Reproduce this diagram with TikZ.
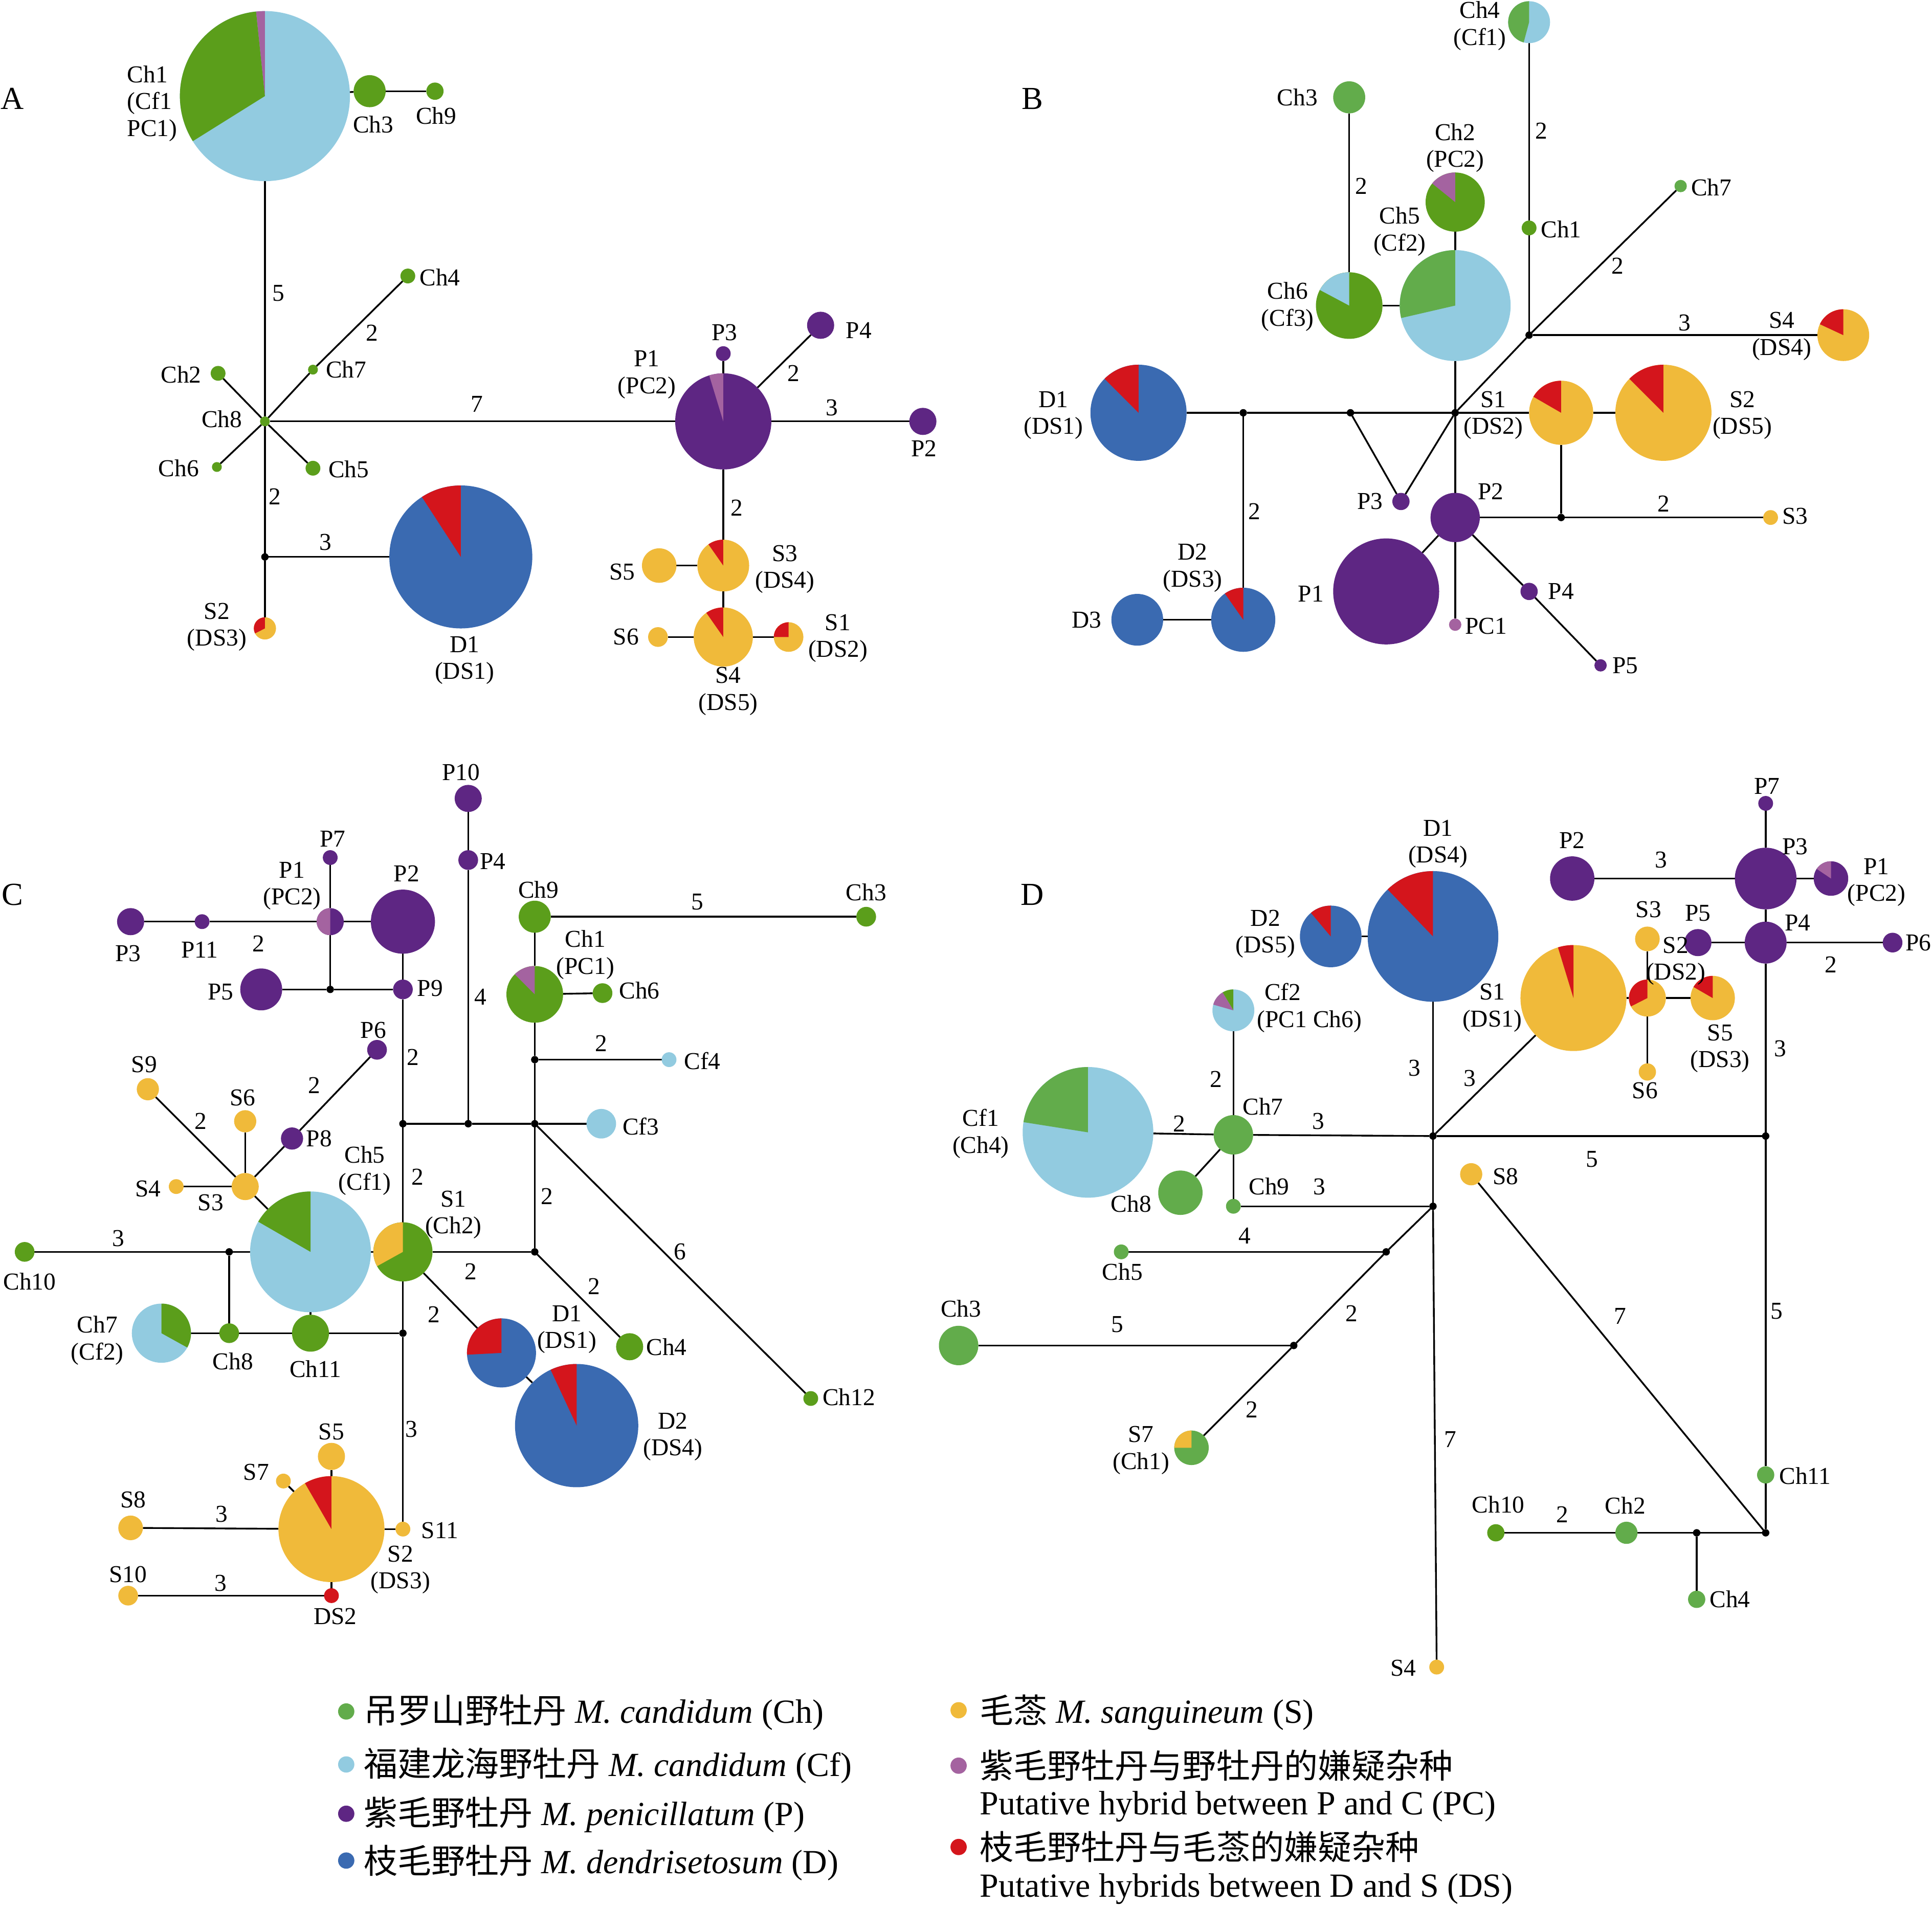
\documentclass[tikz,border=0pt]{standalone}
\usepackage{fontspec}
\setmainfont{Liberation Serif}
\newfontfamily\cjk{Noto Sans CJK SC}
\pgfdeclarelayer{bg}
\pgfsetlayers{bg,main}
\definecolor{cfb}{RGB}{146,203,224}
\definecolor{chd}{RGB}{91,158,27}
\definecolor{chl}{RGB}{98,172,75}
\definecolor{pp}{RGB}{94,38,131}
\definecolor{pc}{RGB}{164,99,160}
\definecolor{db}{RGB}{58,106,177}
\definecolor{rd}{RGB}{212,21,28}
\definecolor{yl}{RGB}{240,186,58}
\tikzset{
 hapn/.style={circle,inner sep=0pt,outer sep=0pt,draw=none},
 jnode/.style={circle,inner sep=0pt,outer sep=0pt,fill=black,minimum size=0.15cm},
 lab/.style={inner sep=0pt,align=center,font=\fontsize{14}{15.5}\selectfont},
 ttl/.style={inner sep=0pt,font=\fontsize{18.5}{20}\selectfont},
 lnk/.style={draw=black,line width=1pt},
 leg/.style={inner sep=0pt,anchor=west,align=left,font=\fontsize{19.5}{24}\selectfont},
 ldot/.style={circle,inner sep=0pt,minimum size=0.33cm},
}
\newcommand\hap[5]{\node[hapn,minimum size={#4*0.05cm},fill=#5] (#1) at (#2,#3) {};}
\newcommand\slc[5]{\pgfmathsetlengthmacro\rr{#2*0.025cm}\fill[#5] (#1.center) -- ++(#3:\rr) arc[start angle=#3,end angle=#4,radius=\rr] -- cycle;}
\newcommand\jn[3]{\node[jnode] (#1) at (#2,#3) {};}
\newcommand\lab[4]{\node[lab] (#1) at (#2,#3) {#4};}
\newcommand\ed[2]{\draw[lnk] (#1) -- (#2);}
\begin{document}
\begin{tikzpicture}[x=0.025cm,y=-0.025cm]
\useasboundingbox (0,0) rectangle (1568,1549);
% ================= Panel A =================
\node[ttl] (A-t) at (10,80) {A};
\hap{A-Ch1}{215}{78}{69}{cfb}
\slc{A-Ch1}{69}{90}{96}{pc}
\slc{A-Ch1}{69}{96}{212}{chd}
\hap{A-Ch3}{300}{74}{13}{chd}
\hap{A-Ch9}{353}{74}{7}{chd}
\hap{A-Ch8}{215}{342}{4}{chd}
\hap{A-Ch4}{331}{224}{6}{chd}
\hap{A-Ch7}{254}{300}{4}{chd}
\hap{A-Ch2}{177}{303}{6}{chd}
\hap{A-Ch6}{176}{379}{4}{chd}
\hap{A-Ch5}{254}{380}{6}{chd}
\jn{A-j1}{215}{452}
\hap{A-D1}{374}{452}{58}{db}
\slc{A-D1}{58}{90}{123}{rd}
\hap{A-S2}{215}{510}{9}{yl}
\slc{A-S2}{9}{90}{207}{rd}
\hap{A-P1}{587}{342}{39}{pp}
\slc{A-P1}{39}{90}{107}{pc}
\hap{A-P3}{587}{287}{6}{pp}
\hap{A-P4}{666}{264}{11}{pp}
\hap{A-P2}{749}{342}{11}{pp}
\hap{A-S3}{587}{459}{21}{yl}
\slc{A-S3}{21}{90}{125}{rd}
\hap{A-S5}{535}{459}{14}{yl}
\hap{A-S4}{587}{517}{24}{yl}
\slc{A-S4}{24}{90}{125}{rd}
\hap{A-S6}{534}{517}{8}{yl}
\hap{A-S1}{640}{517}{12}{yl}
\slc{A-S1}{12}{90}{180}{rd}
\begin{pgfonlayer}{bg}
\ed{A-Ch1}{A-Ch3}\ed{A-Ch3}{A-Ch9}\ed{A-Ch1}{A-Ch8}\ed{A-Ch8}{A-Ch2}
\ed{A-Ch8}{A-Ch5}\ed{A-Ch8}{A-Ch6}\ed{A-Ch8}{A-Ch7}\ed{A-Ch7}{A-Ch4}
\ed{A-Ch8}{A-j1}\ed{A-j1}{A-S2}\ed{A-j1}{A-D1}\ed{A-Ch8}{A-P1}
\ed{A-P1}{A-P3}\ed{A-P1}{A-P4}\ed{A-P1}{A-P2}\ed{A-P1}{A-S3}
\ed{A-S3}{A-S5}\ed{A-S3}{A-S4}\ed{A-S4}{A-S6}\ed{A-S4}{A-S1}
\end{pgfonlayer}
\node[lab,anchor=west,align=left] (A-lCh1) at (103,84) {Ch1\\(Cf1\\PC1)};
\lab{A-lCh3}{303}{101}{Ch3}
\lab{A-lCh9}{354}{94}{Ch9}
\lab{A-lCh4}{357}{225}{Ch4}
\lab{A-lCh7}{281}{300}{Ch7}
\lab{A-lCh2}{147}{304}{Ch2}
\lab{A-lCh8}{180}{340}{Ch8}
\lab{A-lCh6}{145}{380}{Ch6}
\lab{A-lCh5}{283}{381}{Ch5}
\lab{A-lS2}{176}{509}{S2\\(DS3)}
\lab{A-lD1}{377}{536}{D1\\(DS1)}
\lab{A-lP1}{525}{304}{P1\\(PC2)}
\lab{A-lP3}{588}{270}{P3}
\lab{A-lP4}{697}{268}{P4}
\lab{A-lP2}{750}{364}{P2}
\lab{A-lS3}{637}{462}{S3\\(DS4)}
\lab{A-lS5}{505}{464}{S5}
\lab{A-lS4}{591}{561}{S4\\(DS5)}
\lab{A-lS6}{508}{517}{S6}
\lab{A-lS1}{680}{518}{S1\\(DS2)}
\lab{A-n1}{226}{238}{5}
\lab{A-n2}{302}{270}{2}
\lab{A-n3}{387}{328}{7}
\lab{A-n4}{223}{403}{2}
\lab{A-n5}{264}{440}{3}
\lab{A-n6}{644}{303}{2}
\lab{A-n7}{675}{331}{3}
\lab{A-n8}{598}{412}{2}
% ================= Panel B =================
\node[ttl] (B-t) at (838,80) {B};
\hap{B-Ch4}{1241}{18}{17}{cfb}
\slc{B-Ch4}{17}{90}{255}{chl}
\hap{B-Ch1}{1241}{185}{6}{chd}
\jn{B-j1}{1241}{272}
\hap{B-Ch7}{1364}{151}{5}{chl}
\hap{B-S4}{1496}{272}{21}{yl}
\slc{B-S4}{21}{90}{155}{rd}
\jn{B-j2}{1181}{335}
\hap{B-Ch5}{1181}{248}{45}{cfb}
\slc{B-Ch5}{45}{90}{193}{chl}
\hap{B-Ch2}{1181}{164}{24}{chd}
\slc{B-Ch2}{24}{90}{141}{pc}
\hap{B-Ch6}{1095}{248}{27}{chd}
\slc{B-Ch6}{27}{90}{152}{cfb}
\hap{B-Ch3}{1095}{79}{13}{chl}
\hap{B-D1}{924}{335}{39}{db}
\slc{B-D1}{39}{90}{135}{rd}
\jn{B-j3}{1009}{335}
\jn{B-j4}{1096}{335}
\hap{B-S1}{1267}{335}{26}{yl}
\slc{B-S1}{26}{90}{150}{rd}
\hap{B-S2}{1350}{335}{39}{yl}
\slc{B-S2}{39}{90}{135}{rd}
\hap{B-P3}{1137}{407}{7}{pp}
\hap{B-P2}{1181}{420}{20}{pp}
\jn{B-j5}{1267}{420}
\hap{B-S3}{1437}{420}{6}{yl}
\hap{B-P1}{1125}{480}{43}{pp}
\hap{B-P4}{1241}{480}{7}{pp}
\hap{B-P5}{1299}{540}{5}{pp}
\hap{B-PC1}{1181}{507}{5}{pc}
\hap{B-D2}{1009}{503}{26}{db}
\slc{B-D2}{26}{90}{125}{rd}
\hap{B-D3}{923}{503}{21}{db}
\begin{pgfonlayer}{bg}
\ed{B-Ch4}{B-Ch1}\ed{B-Ch1}{B-j1}\ed{B-j1}{B-Ch7}\ed{B-j1}{B-S4}\ed{B-j1}{B-j2}
\ed{B-Ch3}{B-Ch6}\ed{B-Ch6}{B-Ch5}\ed{B-Ch2}{B-Ch5}\ed{B-Ch5}{B-j2}
\ed{B-D1}{B-j3}\ed{B-j3}{B-j4}\ed{B-j4}{B-j2}\ed{B-j2}{B-S1}\ed{B-S1}{B-S2}
\ed{B-j4}{B-P3}\ed{B-P3}{B-j2}\ed{B-j2}{B-P2}\ed{B-S1}{B-j5}\ed{B-P2}{B-j5}
\ed{B-j5}{B-S3}\ed{B-P2}{B-P1}\ed{B-P2}{B-P4}\ed{B-P4}{B-P5}\ed{B-P2}{B-PC1}
\ed{B-j3}{B-D2}\ed{B-D3}{B-D2}
\end{pgfonlayer}
\lab{B-lCh4}{1201}{21}{Ch4\\(Cf1)}
\lab{B-lCh1}{1267}{186}{Ch1}
\lab{B-lCh7}{1389}{152}{Ch7}
\lab{B-lS4}{1446}{273}{S4\\(DS4)}
\lab{B-lCh5}{1136}{188}{Ch5\\(Cf2)}
\lab{B-lCh2}{1181}{120}{Ch2\\(PC2)}
\lab{B-lCh6}{1045}{249}{Ch6\\(Cf3)}
\lab{B-lCh3}{1053}{79}{Ch3}
\lab{B-lD1}{855}{337}{D1\\(DS1)}
\lab{B-lS1}{1212}{337}{S1\\(DS2)}
\lab{B-lS2}{1414}{337}{S2\\(DS5)}
\lab{B-lP3}{1112}{407}{P3}
\lab{B-lP2}{1210}{399}{P2}
\lab{B-lS3}{1457}{419}{S3}
\lab{B-lP1}{1064}{482}{P1}
\lab{B-lP4}{1267}{480}{P4}
\lab{B-lP5}{1319}{540}{P5}
\lab{B-lPC1}{1206}{508}{PC1}
\lab{B-lD2}{968}{461}{D2\\(DS3)}
\lab{B-lD3}{882}{503}{D3}
\lab{B-n1}{1105}{151}{2}
\lab{B-n2}{1251}{106}{2}
\lab{B-n3}{1313}{216}{2}
\lab{B-n4}{1367}{262}{3}
\lab{B-n5}{1350}{409}{2}
\lab{B-n6}{1018}{415}{2}
% ================= Panel C =================
\node[ttl] (C-t) at (10,726) {C};
\hap{C-P10}{380}{648}{11}{pp}
\hap{C-P4}{380}{698}{8}{pp}
\jn{C-j1}{380}{912}
\hap{C-P3}{106}{748}{11}{pp}
\hap{C-P11}{164}{748}{6}{pp}
\hap{C-P1}{268}{748}{11}{pp}
\slc{C-P1}{11}{90}{270}{pc}
\hap{C-P7}{268}{696}{6}{pp}
\hap{C-P2}{327}{748}{26}{pp}
\jn{C-j2}{268}{803}
\hap{C-P5}{212}{803}{17}{pp}
\hap{C-P9}{327}{803}{8}{pp}
\jn{C-j3}{327}{912}
\jn{C-j4}{434}{912}
\hap{C-Ch9}{434}{744}{13}{chd}
\hap{C-Ch3}{703}{744}{8}{chd}
\hap{C-Ch1}{434}{807}{23}{chd}
\slc{C-Ch1}{23}{90}{135}{pc}
\hap{C-Ch6}{489}{806}{8}{chd}
\jn{C-j5}{434}{860}
\hap{C-Cf4}{543}{860}{6}{cfb}
\hap{C-Cf3}{488}{912}{12}{cfb}
\hap{C-Ch12}{658}{1135}{6}{chd}
\jn{C-j6}{434}{1016}
\hap{C-Ch4}{511}{1093}{11}{chd}
\hap{C-S1}{327}{1016}{24}{chd}
\slc{C-S1}{24}{90}{209}{yl}
\hap{C-D1}{407}{1098}{28}{db}
\slc{C-D1}{28}{90}{183}{rd}
\hap{C-D2}{468}{1157}{50}{db}
\slc{C-D2}{50}{90}{115}{rd}
\hap{C-Ch5}{252}{1016}{49}{cfb}
\slc{C-Ch5}{49}{90}{150}{chd}
\hap{C-S3}{199}{963}{11}{yl}
\hap{C-S6}{199}{910}{9}{yl}
\hap{C-S4}{143}{963}{6}{yl}
\hap{C-S9}{120}{884}{9}{yl}
\hap{C-P8}{237}{924}{9}{pp}
\hap{C-P6}{306}{852}{8}{pp}
\jn{C-j7}{186}{1016}
\hap{C-Ch10}{20}{1016}{8}{chd}
\hap{C-Ch8}{186}{1082}{8}{chd}
\hap{C-Ch7}{131}{1082}{24}{cfb}
\slc{C-Ch7}{24}{-29}{90}{chd}
\hap{C-Ch11}{252}{1082}{15}{chd}
\jn{C-j9}{327}{1082}
\hap{C-S11}{327}{1241}{6}{yl}
\hap{C-S2}{269}{1241}{43}{yl}
\slc{C-S2}{43}{90}{120}{rd}
\hap{C-S5}{269}{1182}{11}{yl}
\hap{C-S7}{230}{1202}{6}{yl}
\hap{C-S8}{106}{1240}{10}{yl}
\hap{C-DS2}{269}{1295}{6}{rd}
\hap{C-S10}{104}{1295}{8}{yl}
\begin{pgfonlayer}{bg}
\ed{C-P10}{C-P4}\ed{C-P4}{C-j1}\ed{C-P3}{C-P11}\ed{C-P11}{C-P1}\ed{C-P1}{C-P2}
\ed{C-P7}{C-P1}\ed{C-P1}{C-j2}\ed{C-P5}{C-j2}\ed{C-j2}{C-P9}\ed{C-P2}{C-P9}
\ed{C-P9}{C-j3}\ed{C-j3}{C-j1}\ed{C-j1}{C-j4}\ed{C-Ch9}{C-Ch3}\ed{C-Ch9}{C-Ch1}
\ed{C-Ch1}{C-Ch6}\ed{C-Ch1}{C-j5}\ed{C-j5}{C-Cf4}\ed{C-j5}{C-j4}\ed{C-j4}{C-Cf3}
\ed{C-j4}{C-Ch12}\ed{C-j4}{C-j6}\ed{C-j6}{C-Ch4}\ed{C-j3}{C-S1}\ed{C-S1}{C-j6}
\ed{C-S1}{C-D1}\ed{C-D1}{C-D2}\ed{C-Ch5}{C-S1}\ed{C-S3}{C-Ch5}\ed{C-S3}{C-S6}
\ed{C-S3}{C-S4}\ed{C-S3}{C-S9}\ed{C-S3}{C-P8}\ed{C-P8}{C-P6}\ed{C-Ch10}{C-j7}
\ed{C-j7}{C-Ch5}\ed{C-j7}{C-Ch8}\ed{C-Ch7}{C-Ch8}\ed{C-Ch8}{C-Ch11}\ed{C-Ch5}{C-Ch11}
\ed{C-Ch11}{C-j9}\ed{C-S1}{C-j9}\ed{C-j9}{C-S11}\ed{C-S2}{C-S11}\ed{C-S5}{C-S2}
\ed{C-S7}{C-S2}\ed{C-S8}{C-S2}\ed{C-S2}{C-DS2}\ed{C-S10}{C-DS2}
\end{pgfonlayer}
\lab{C-lP10}{374}{627}{P10}
\lab{C-lP4}{400}{699}{P4}
\lab{C-lP3}{104}{774}{P3}
\lab{C-lP11}{162}{771}{P11}
\lab{C-lP1}{237}{719}{P1\\(PC2)}
\lab{C-lP7}{270}{681}{P7}
\lab{C-lP2}{330}{709}{P2}
\lab{C-lP5}{179}{805}{P5}
\lab{C-lP9}{349}{802}{P9}
\lab{C-lCh9}{437}{722}{Ch9}
\lab{C-lCh3}{703}{724}{Ch3}
\lab{C-lCh1}{475}{775}{Ch1\\(PC1)}
\lab{C-lCh6}{519}{804}{Ch6}
\lab{C-lCf4}{570}{861}{Cf4}
\lab{C-lCf3}{520}{914}{Cf3}
\lab{C-lCh12}{689}{1134}{Ch12}
\lab{C-lCh4}{541}{1093}{Ch4}
\lab{C-lS1}{368}{986}{S1\\(Ch2)}
\lab{C-lD1}{460}{1079}{D1\\(DS1)}
\lab{C-lD2}{546}{1166}{D2\\(DS4)}
\lab{C-lCh5}{296}{950}{Ch5\\(Cf1)}
\lab{C-lS3}{171}{976}{S3}
\lab{C-lS6}{197}{891}{S6}
\lab{C-lS4}{120}{965}{S4}
\lab{C-lS9}{117}{864}{S9}
\lab{C-lP8}{259}{924}{P8}
\lab{C-lP6}{303}{836}{P6}
\lab{C-lCh10}{24}{1040}{Ch10}
\lab{C-lCh8}{189}{1105}{Ch8}
\lab{C-lCh7}{79}{1088}{Ch7\\(Cf2)}
\lab{C-lCh11}{256}{1111}{Ch11}
\lab{C-lS11}{357}{1242}{S11}
\lab{C-lS2}{325}{1274}{S2\\(DS3)}
\lab{C-lS5}{269}{1162}{S5}
\lab{C-lS7}{208}{1195}{S7}
\lab{C-lS8}{108}{1217}{S8}
\lab{C-lDS2}{272}{1312}{DS2}
\lab{C-lS10}{104}{1278}{S10}
\lab{C-n1}{210}{766}{2}
\lab{C-n2}{390}{809}{4}
\lab{C-n3}{566}{732}{5}
\lab{C-n4}{335}{858}{2}
\lab{C-n5}{488}{847}{2}
\lab{C-n6}{163}{910}{2}
\lab{C-n7}{255}{881}{2}
\lab{C-n8}{339}{955}{2}
\lab{C-n9}{444}{971}{2}
\lab{C-n10}{552}{1016}{6}
\lab{C-n11}{96}{1005}{3}
\lab{C-n12}{382}{1032}{2}
\lab{C-n13}{352}{1067}{2}
\lab{C-n14}{482}{1044}{2}
\lab{C-n15}{334}{1160}{3}
\lab{C-n16}{180}{1229}{3}
\lab{C-n17}{179}{1285}{3}
% ================= Panel D =================
\node[ttl] (D-t) at (838,726) {D};
\hap{D-D1}{1163}{760}{53}{db}
\slc{D-D1}{53}{90}{134}{rd}
\hap{D-D2}{1080}{760}{25}{db}
\slc{D-D2}{25}{90}{130}{rd}
\hap{D-Cf2}{1001}{820}{17}{cfb}
\slc{D-Cf2}{17}{90}{121}{chd}
\slc{D-Cf2}{17}{121}{164}{pc}
\hap{D-Ch7}{1001}{921}{16}{chl}
\hap{D-Cf1}{883}{919}{53}{cfb}
\slc{D-Cf1}{53}{90}{171}{chl}
\hap{D-Ch8}{958}{968}{18}{chl}
\hap{D-Ch9}{1001}{979}{6}{chl}
\jn{D-j1}{1163}{922}
\jn{D-j2}{1163}{979}
\hap{D-S1}{1277}{810}{43}{yl}
\slc{D-S1}{43}{90}{107}{rd}
\jn{D-j3}{1433}{922}
\hap{D-P3}{1433}{713}{25}{pp}
\hap{D-P7}{1433}{652}{6}{pp}
\hap{D-P2}{1276}{713}{18}{pp}
\hap{D-P1}{1486}{713}{14}{pp}
\slc{D-P1}{14}{90}{146}{pc}
\hap{D-P4}{1433}{765}{17}{pp}
\hap{D-P6}{1536}{765}{8}{pp}
\hap{D-P5}{1378}{765}{11}{pp}
\hap{D-S2}{1337}{810}{15}{yl}
\slc{D-S2}{15}{90}{207}{rd}
\hap{D-S3}{1337}{762}{10}{yl}
\hap{D-S6}{1337}{870}{7}{yl}
\hap{D-S5}{1390}{810}{18}{yl}
\slc{D-S5}{18}{90}{150}{rd}
\jn{D-j4}{1125}{1016}
\jn{D-j5}{1050}{1092}
\hap{D-Ch5}{910}{1016}{6}{chl}
\hap{D-Ch3}{778}{1092}{16}{chl}
\hap{D-S7}{967}{1175}{14}{chl}
\slc{D-S7}{14}{90}{180}{yl}
\hap{D-S4}{1166}{1353}{6}{yl}
\hap{D-S8}{1194}{953}{9}{yl}
\jn{D-j6}{1433}{1244}
\hap{D-Ch11}{1433}{1197}{7}{chl}
\jn{D-j7}{1377}{1244}
\hap{D-Ch2}{1320}{1244}{9}{chl}
\hap{D-Ch10}{1214}{1244}{7}{chd}
\hap{D-Ch4}{1377}{1298}{7}{chl}
\begin{pgfonlayer}{bg}
\ed{D-D2}{D-D1}\ed{D-Cf2}{D-Ch7}\ed{D-Cf1}{D-Ch7}\ed{D-Ch7}{D-Ch8}\ed{D-Ch7}{D-Ch9}
\ed{D-Ch7}{D-j1}\ed{D-Ch9}{D-j2}\ed{D-D1}{D-j1}\ed{D-j1}{D-j2}\ed{D-j1}{D-S1}
\ed{D-j1}{D-j3}\ed{D-P7}{D-P3}\ed{D-P2}{D-P3}\ed{D-P3}{D-P1}\ed{D-P3}{D-P4}
\ed{D-P4}{D-P6}\ed{D-P5}{D-P4}\ed{D-S1}{D-S2}\ed{D-S3}{D-S2}\ed{D-S2}{D-S6}
\ed{D-S2}{D-S5}\ed{D-P4}{D-j3}\ed{D-j2}{D-j4}\ed{D-j4}{D-j5}\ed{D-j5}{D-S7}
\ed{D-Ch5}{D-j4}\ed{D-Ch3}{D-j5}\ed{D-j2}{D-S4}\ed{D-S8}{D-j6}\ed{D-j3}{D-Ch11}
\ed{D-Ch11}{D-j6}\ed{D-j6}{D-j7}\ed{D-Ch10}{D-Ch2}\ed{D-Ch2}{D-j7}\ed{D-j7}{D-Ch4}
\end{pgfonlayer}
\lab{D-lD1}{1167}{685}{D1\\(DS4)}
\lab{D-lD2}{1027}{758}{D2\\(DS5)}
\node[lab,anchor=west,align=left] (D-lCf2) at (1020,818) {\hspace*{0.15cm}Cf2\\(PC1 Ch6)};
\lab{D-lCh7}{1025}{898}{Ch7}
\lab{D-lCf1}{796}{920}{Cf1\\(Ch4)}
\lab{D-lCh8}{918}{977}{Ch8}
\lab{D-lCh9}{1030}{963}{Ch9}
\lab{D-lS1}{1211}{818}{S1\\(DS1)}
\lab{D-lP3}{1457}{687}{P3}
\lab{D-lP7}{1434}{638}{P7}
\lab{D-lP2}{1276}{682}{P2}
\lab{D-lP1}{1523}{716}{P1\\(PC2)}
\lab{D-lP4}{1459}{749}{P4}
\lab{D-lP6}{1557}{765}{P6}
\lab{D-lP5}{1378}{741}{P5}
\lab{D-lS2}{1360}{780}{S2\\(DS2)}
\lab{D-lS3}{1338}{738}{S3}
\lab{D-lS6}{1335}{885}{S6}
\lab{D-lS5}{1396}{851}{S5\\(DS3)}
\lab{D-lCh5}{911}{1032}{Ch5}
\lab{D-lCh3}{780}{1062}{Ch3}
\lab{D-lS7}{926}{1177}{S7\\(Ch1)}
\lab{D-lS4}{1139}{1354}{S4}
\lab{D-lS8}{1222}{955}{S8}
\lab{D-lCh11}{1465}{1198}{Ch11}
\lab{D-lCh2}{1319}{1222}{Ch2}
\lab{D-lCh10}{1216}{1221}{Ch10}
\lab{D-lCh4}{1404}{1298}{Ch4}
\lab{D-n1}{987}{876}{2}
\lab{D-n2}{957}{912}{2}
\lab{D-n3}{1070}{910}{3}
\lab{D-n4}{1071}{963}{3}
\lab{D-n5}{1148}{867}{3}
\lab{D-n6}{1193}{875}{3}
\lab{D-n7}{1292}{941}{5}
\lab{D-n8}{1348}{698}{3}
\lab{D-n9}{1486}{783}{2}
\lab{D-n10}{1445}{851}{3}
\lab{D-n11}{1010}{1003}{4}
\lab{D-n12}{907}{1075}{5}
\lab{D-n13}{1097}{1066}{2}
\lab{D-n14}{1016}{1144}{2}
\lab{D-n15}{1177}{1168}{7}
\lab{D-n16}{1315}{1068}{7}
\lab{D-n17}{1442}{1064}{5}
\lab{D-n18}{1268}{1229}{2}
% ================= Legend =================
\node[ldot,fill=chl] (L-d1) at (281,1389) {};
\node[leg] (L-t1) at (295,1390) {{\cjk 吊罗山野牡丹} \textit{M. candidum} (Ch)};
\node[ldot,fill=cfb] (L-d2) at (281,1432) {};
\node[leg] (L-t2) at (295,1433) {{\cjk 福建龙海野牡丹} \textit{M. candidum} (Cf)};
\node[ldot,fill=pp] (L-d3) at (281,1472) {};
\node[leg] (L-t3) at (295,1473) {{\cjk 紫毛野牡丹} \textit{M. penicillatum} (P)};
\node[ldot,fill=db] (L-d4) at (281,1510) {};
\node[leg] (L-t4) at (295,1512) {{\cjk 枝毛野牡丹} \textit{M. dendrisetosum} (D)};
\node[ldot,fill=yl] (L-d5) at (778,1388) {};
\node[leg] (L-t5) at (795,1390) {{\cjk 毛菍} \textit{M. sanguineum} (S)};
\node[ldot,fill=pc] (L-d6) at (778,1433) {};
\node[leg] (L-t6) at (795,1433) {{\cjk 紫毛野牡丹与野牡丹的嫌疑杂种}};
\node[leg] (L-t7) at (795,1466) {Putative hybrid between P and C (PC)};
\node[ldot,fill=rd] (L-d7) at (778,1499) {};
\node[leg] (L-t8) at (795,1499) {{\cjk 枝毛野牡丹与毛菍的嫌疑杂种}};
\node[leg] (L-t9) at (795,1533) {Putative hybrids between D and S (DS)};
\end{tikzpicture}
\end{document}
